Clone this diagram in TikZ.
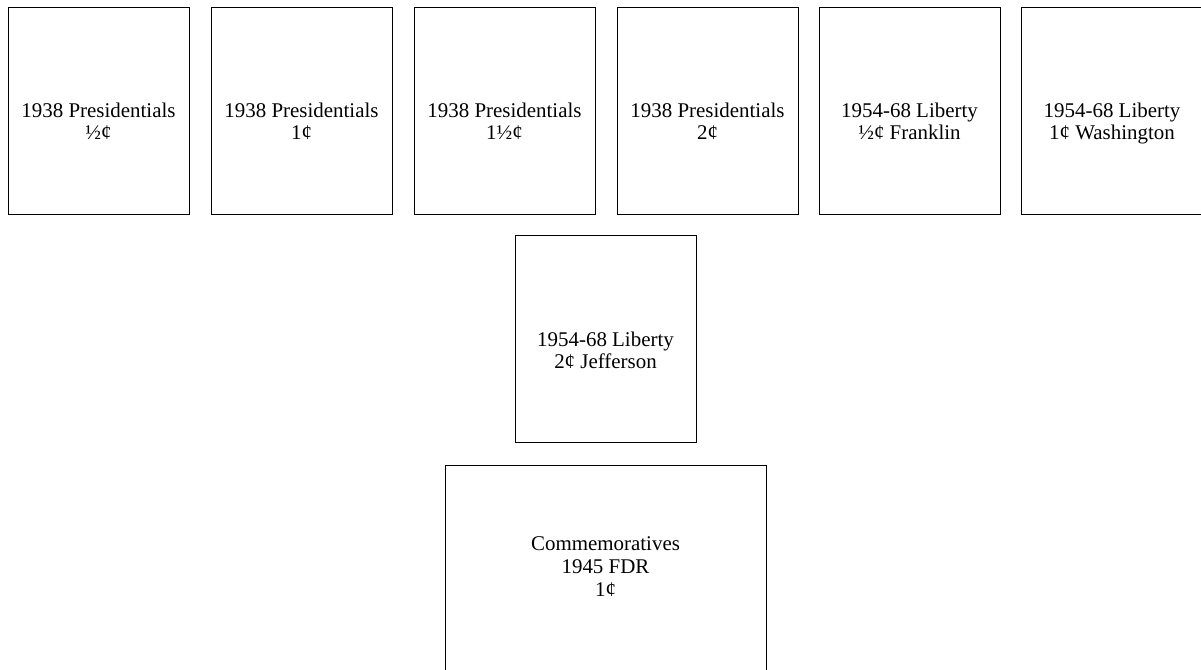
\documentclass[tikz,border=0pt]{standalone}
\usepackage{fontspec}
\setmainfont{Liberation Serif}

\begin{document}
\begin{tikzpicture}[x=0.75pt, y=-0.75pt,
		stamp/.style={draw, line width=0.75pt, inner sep=0pt,
			minimum width=135.75pt, minimum height=155.25pt},
		widestamp/.style={stamp, minimum width=240.75pt, minimum height=165pt},
		caption/.style={align=center, inner sep=0pt, anchor=base,
			font=\fontsize{15.7}{16.5}\selectfont}]
		
		% page
		\useasboundingbox (0,0) rectangle (1201,669);
		\clip (0,0) rectangle (1201,669);
		
		% top row
		\node[stamp] (prhalf) at (98.5,110.5) {};
		\node[stamp] (prone) at (301.5,110.5) {};
		\node[stamp] (proneh) at (504.5,110.5) {};
		\node[stamp] (prtwo) at (707.5,110.5) {};
		\node[stamp] (libhalf) at (909.5,110.5) {};
		\node[stamp] (libone) at (1112,110.5) {};
		
		% middle
		\node[stamp] (libtwo) at (605.5,339) {};
		
		% bottom
		\node[widestamp] (fdr) at (605.5,575) {};
		
		% captions, last baseline under the top edge
		\node[caption] (prhalftext) at ([yshift=-99.75pt]prhalf.north) {1938 Presidentials\\½¢};
		\node[caption] (pronetext) at ([yshift=-99.75pt]prone.north) {1938 Presidentials\\1¢};
		\node[caption] (pronehtext) at ([yshift=-99.75pt]proneh.north) {1938 Presidentials\\1½¢};
		\node[caption] (prtwotext) at ([yshift=-99.75pt]prtwo.north) {1938 Presidentials\\2¢};
		\node[caption] (libhalftext) at ([yshift=-99.75pt]libhalf.north) {1954-68 Liberty\\½¢ Franklin};
		\node[caption] (libonetext) at ([yshift=-99.75pt]libone.north) {1954-68 Liberty\\1¢ Washington};
		\node[caption] (libtwotext) at ([yshift=-99.75pt]libtwo.north) {1954-68 Liberty\\2¢ Jefferson};
		\node[caption, font=\fontsize{15.7}{17.25}\selectfont] (fdrtext) at ([yshift=-99pt]fdr.north) {Commemoratives\\1945 FDR\\1¢};
		
	\end{tikzpicture}
\end{document}
